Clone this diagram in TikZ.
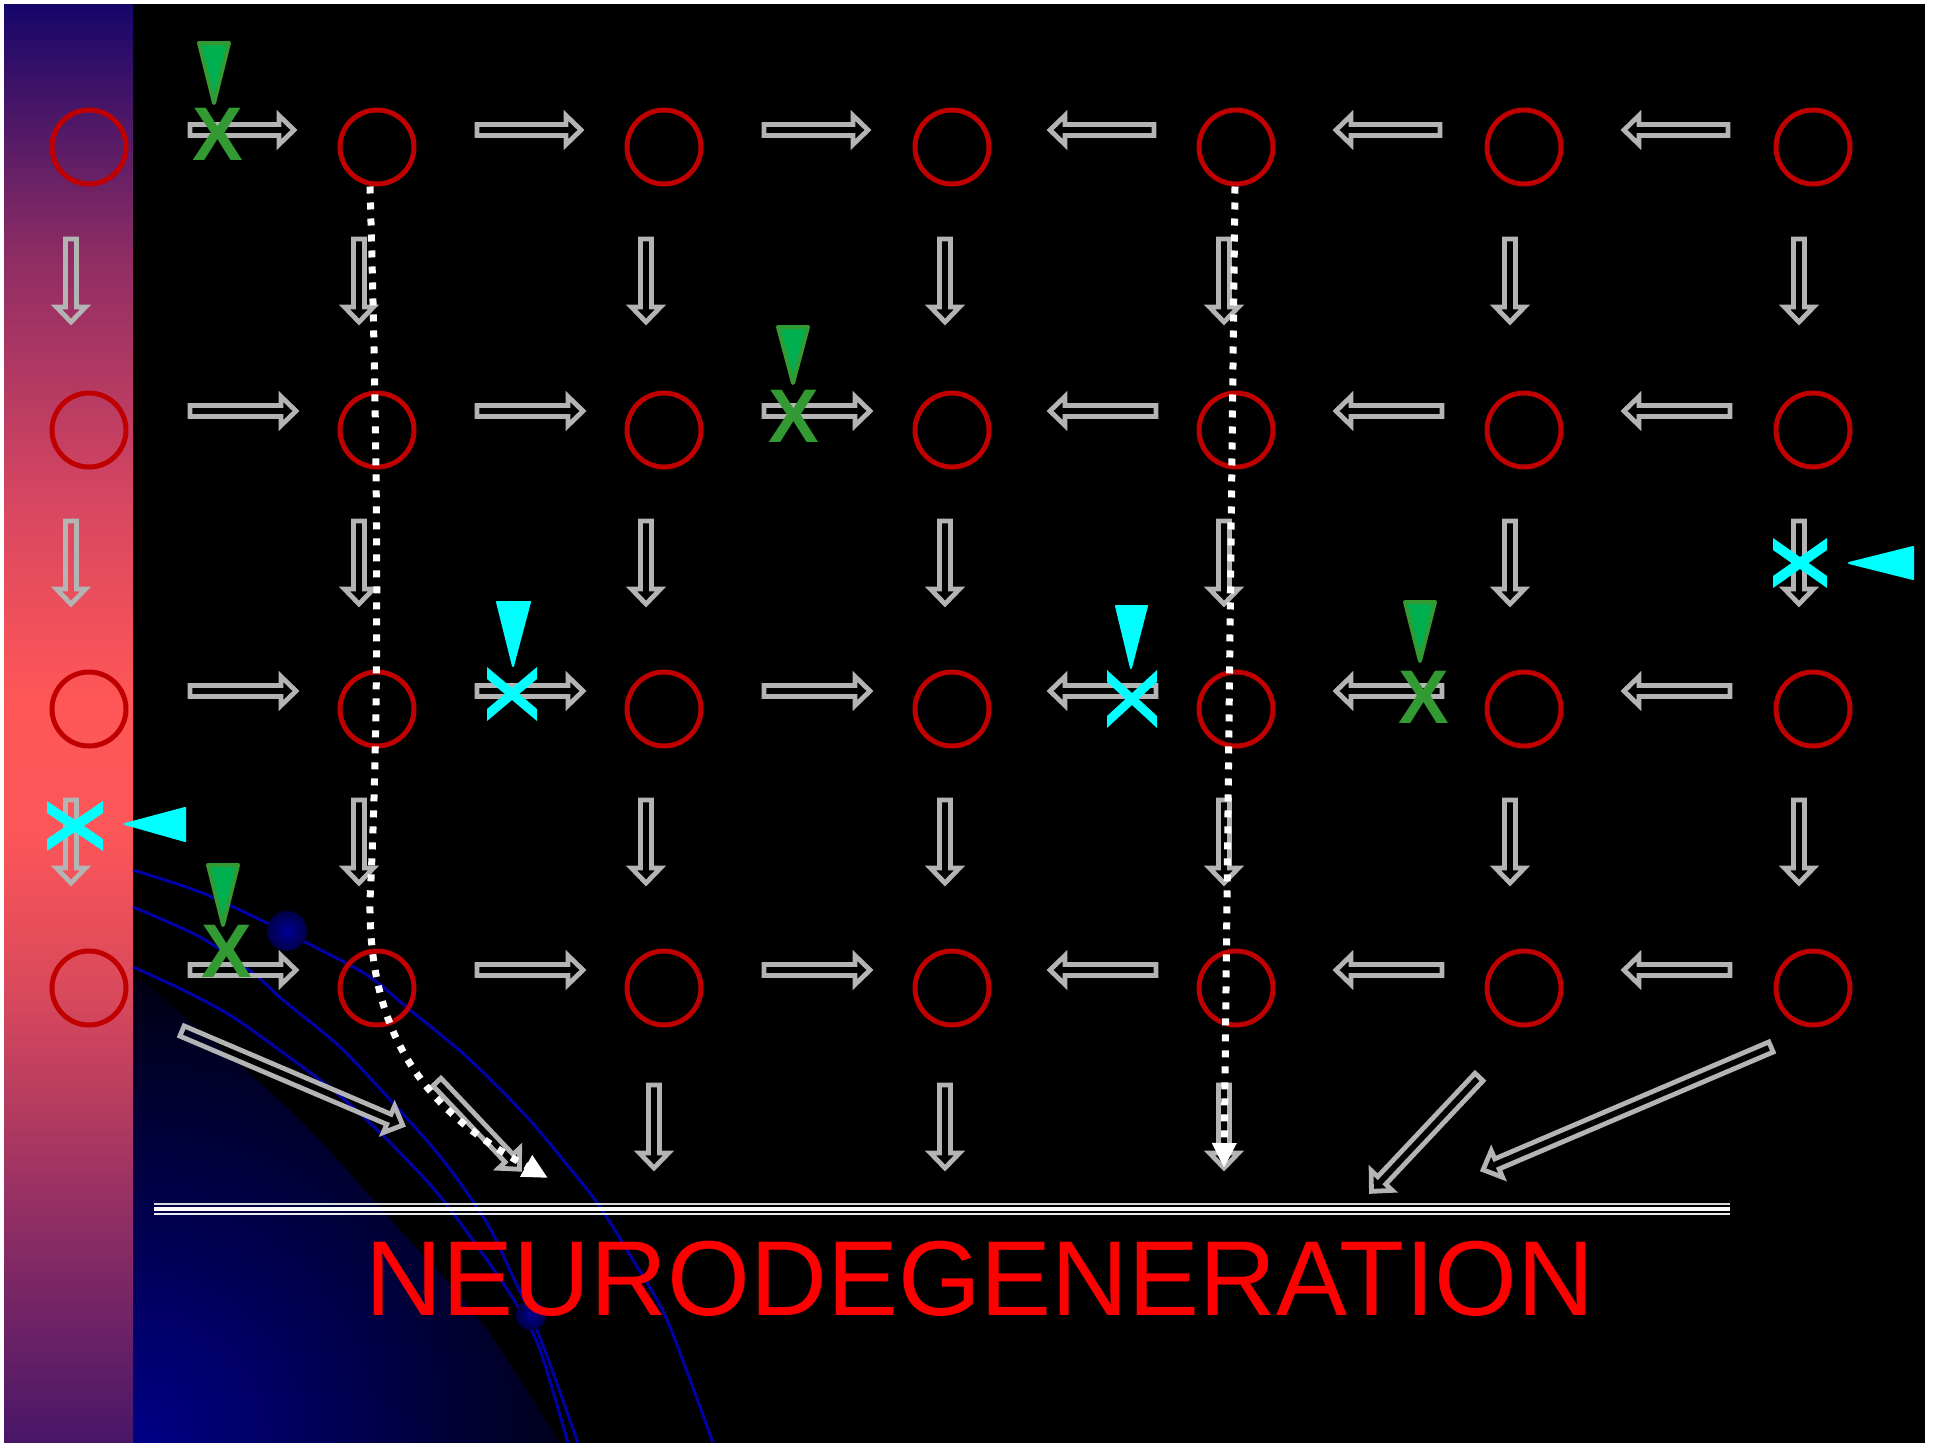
\documentclass[tikz,border=0pt]{standalone}
\usepackage{fontspec}
\setmainfont{Liberation Sans}
\usetikzlibrary{arrows.meta}

\definecolor{ringred}{RGB}{192,0,0}
\definecolor{shaftgray}{RGB}{180,180,180}
\definecolor{leafgreen}{RGB}{0,176,80}
\definecolor{edgegreen}{RGB}{51,153,51}
\definecolor{aqua}{RGB}{0,255,255}
\definecolor{arcblue}{RGB}{0,0,165}
\definecolor{globeblue}{RGB}{0,0,135}
\definecolor{beadinner}{RGB}{0,0,150}
\definecolor{beadouter}{RGB}{0,0,70}
\definecolor{stripA}{RGB}{22,6,106}
\definecolor{stripB}{RGB}{140,44,100}
\definecolor{stripC}{RGB}{215,70,97}
\definecolor{stripD}{RGB}{255,87,87}
\definecolor{stripE}{RGB}{252,86,88}
\definecolor{stripF}{RGB}{215,72,92}
\definecolor{stripG}{RGB}{150,48,100}
\definecolor{stripH}{RGB}{72,22,104}

\tikzset{
  ring/.style={circle, draw=ringred, line width=5pt, minimum size=74pt, inner sep=0pt},
  hollow/.style={draw=shaftgray, line width=4.8pt, line join=miter, miter limit=10},
  trail/.style={draw=white, line width=7pt, dash pattern=on 7pt off 9pt},
  trailtip/.style={-{Triangle[length=25pt,width=23pt]}},
  leaf/.style={fill=leafgreen, draw=edgegreen, line width=4pt, line join=round},
  wedge/.style={fill=aqua, draw=aqua, line width=2pt, line join=round},
  gmark/.style={text=edgegreen, font=\fontsize{76pt}{76pt}\selectfont\bfseries, inner sep=0pt},
  veinline/.style={draw=arcblue, line width=3pt},
  pics/barrow/.style={code={%
    \draw[hollow] (0,-5.5) -- ({#1-15},-5.5) -- ({#1-15},-14.5) -- (#1,0)
      -- ({#1-15},14.5) -- ({#1-15},5.5) -- (0,5.5) -- cycle;}},
}

% cyan cross: centre x, centre y, half width, half height
\newcommand\cyancross[4]{%
  \fill[aqua] (#1-#3,#2-#4) -- (#1-#3,#2-#4+12) -- (#1+#3,#2+#4) -- (#1+#3,#2+#4-12) -- cycle;
  \fill[aqua] (#1-#3,#2+#4) -- (#1-#3,#2+#4-12) -- (#1+#3,#2-#4) -- (#1+#3,#2-#4+12) -- cycle;}

\begin{document}
\begin{tikzpicture}[x=1pt,y=-1pt]
\useasboundingbox (0,0) rectangle (1936,1443);
\fill[white] (0,0) rectangle (1936,1443);
\fill[black] (4,4) rectangle (1925,1443);

% glowing globe in the lower left corner
\begin{scope}
  \clip plot[smooth] coordinates {(133,973) (200,1030) (300,1120) (400,1230) (480,1320) (560,1443)}
    -- (133,1443) -- cycle;
  \shade[inner color=globeblue, outer color=black] (133,1443) circle (540pt);
\end{scope}

% left colour band
\shade[top color=stripA, bottom color=stripB] (4,4) rectangle (133,251);
\shade[top color=stripB, bottom color=stripC] (4,250) rectangle (133,501);
\shade[top color=stripC, bottom color=stripD] (4,500) rectangle (133,701);
\shade[top color=stripD, bottom color=stripE] (4,700) rectangle (133,831);
\shade[top color=stripE, bottom color=stripF] (4,830) rectangle (133,1001);
\shade[top color=stripF, bottom color=stripG] (4,1000) rectangle (133,1201);
\shade[top color=stripG, bottom color=stripH] (4,1200) rectangle (133,1443);

% blue orbit lines
\draw[veinline] plot[smooth] coordinates {(133,870) (200,892) (267,923) (307,943) (367,975) (410,1010)
  (467,1057) (527,1117) (577,1177) (600,1207) (633,1260) (667,1320) (713,1443)};
\draw[veinline] plot[smooth] coordinates {(133,907) (200,937) (253,973) (283,1000) (340,1047) (393,1103)
  (443,1160) (487,1223) (513,1277) (531,1315) (552,1370) (578,1443)};
\draw[veinline] plot[smooth] coordinates {(133,967) (183,990) (233,1017) (293,1060) (333,1090) (367,1120)
  (410,1163) (443,1200) (487,1260) (517,1305) (540,1350) (568,1443)};
\shade[inner color=beadinner, outer color=beadouter] (287,931) circle (20pt);
\shade[inner color=beadinner, outer color=beadouter] (531,1315) circle (15pt);

% base line
\draw[white!85!black, line width=1.5pt] (154,1204) -- (1730,1204);
\draw[white, line width=3.3pt] (154,1209) -- (1730,1209);
\draw[white!92!black, line width=2pt] (154,1213.7) -- (1730,1213.7);

\node[text=red, font=\fontsize{106.5pt}{110pt}\selectfont, inner sep=0pt, anchor=base]
  (title) at (980,1315) {NEURODEGENERATION};

% grid of cells
\foreach \cx [count=\j] in {89,377,664,952,1236,1524,1813}{
  \foreach \cy [count=\i] in {147,430,709,988}{
    \node[ring] (n\i\j) at (\cx,\cy) {};
  }}

% horizontal block arrows
\foreach \y/\L in {130/109, 411/111, 691/111, 970/111}{
  \foreach \xs in {188,475,762}{\pic at (\xs+2,\y) {barrow=\L-5};}
  \foreach \xs in {1047,1333,1621}{\pic[rotate=180] at (\xs+\L-2,\y) {barrow=\L-5};}
}
% vertical block arrows
\foreach \y in {239,521,800}{
  \foreach \x in {71,359,646,945,1224,1510,1799}{\pic[rotate=-90] at (\x,\y) {barrow=83};}
}
\foreach \x in {654,945,1224}{\pic[rotate=-90] at (\x,1085) {barrow=83};}

% oblique block arrows towards the base line
\pic[rotate=-23.1] at (182,1031) {barrow=240};
\pic[rotate=-46.6] at (437,1082) {barrow=120};
\pic[rotate=-133.25] at (1479,1077) {barrow=157};
\pic[rotate=-156.9] at (1771,1047) {barrow=313};

% dotted pathways
\coordinate (endA) at (548,1178);
\coordinate (endB) at (1224,1168);
\draw[trail, trailtip] ([xshift=-7pt]n12.south) .. controls (379,500) and (379,720) .. (370,900)
  .. controls (368,1050) and (440,1118) .. (endA);
\draw[trail, trailtip] ([xshift=-1pt]n15.south) -- (endB);

% green blocks
\draw[leaf] (199,43) -- (229,43) -- (214,103) -- cycle;
\node[gmark] (g1) at (218,134) {X};
\draw[leaf] (778,327) -- (808,327) -- (793,383) -- cycle;
\node[gmark] (g2) at (794,416) {X};
\draw[leaf] (1405,602) -- (1435,602) -- (1420,661) -- cycle;
\node[gmark] (g3) at (1424,697) {X};
\draw[leaf] (208,865) -- (238,865) -- (223,925) -- cycle;
\node[gmark] (g4) at (227,951) {X};

% cyan blocks
\draw[wedge] (125,824) -- (185,808) -- (185,841) -- cycle;
\cyancross{75}{826}{28}{25}
\draw[wedge] (497,602) -- (530,602) -- (513,666) -- cycle;
\cyancross{512}{694}{25}{27}
\draw[wedge] (1116,606) -- (1147,606) -- (1131,668) -- cycle;
\cyancross{1132}{699}{25}{29}
\draw[wedge] (1849,563) -- (1913,547) -- (1913,579) -- cycle;
\cyancross{1800}{563}{27}{25}
\end{tikzpicture}
\end{document}
